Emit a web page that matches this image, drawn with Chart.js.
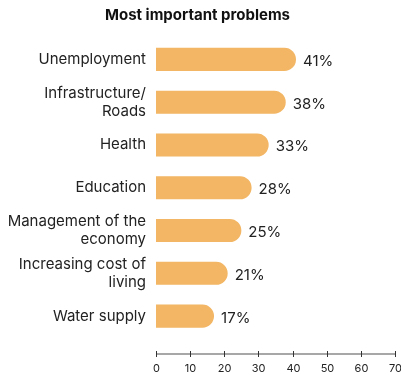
<!DOCTYPE html>
<html>
<head>
<meta charset="utf-8">
<script src="https://cdn.jsdelivr.net/npm/chart.js@4.4.1/dist/chart.umd.min.js"></script>
<style>
html,body{margin:0;padding:0;background:#fff;}
#wrap{width:401px;height:375px;position:relative;}
</style>
</head>
<body>
<div id="wrap"><canvas id="c" width="401" height="375"></canvas></div>
<script>
const categories = [
  "Unemployment",
  ["Infrastructure/", "Roads"],
  "Health",
  "Education",
  ["Management of the", "economy"],
  ["Increasing cost of", "living"],
  "Water supply"
];
const values = [41, 38, 33, 28, 25, 21, 17];
const xTicks = [0, 10, 20, 30, 40, 50, 60, 70];
const titleText = "Most important problems";

const FONT = "Inter, 'Liberation Sans', sans-serif";
const AXIS_GAP = 16.5;

const valueLabels = {
  id: 'valueLabels',
  afterDatasetsDraw(chart) {
    const ctx = chart.ctx;
    const meta = chart.getDatasetMeta(0);
    ctx.save();
    ctx.font = "15px " + FONT;
    ctx.fillStyle = "#222";
    ctx.textAlign = "left";
    ctx.textBaseline = "middle";
    meta.data.forEach((bar, i) => {
      ctx.fillText(values[i] + "%", bar.x + 7, bar.y + 2);
    });
    ctx.restore();
  }
};

const customAxis = {
  id: 'customAxis',
  afterDraw(chart) {
    const ctx = chart.ctx;
    const xs = chart.scales.x;
    const y = chart.chartArea.bottom + AXIS_GAP;
    ctx.save();
    ctx.strokeStyle = "#8a8a8a";
    ctx.lineWidth = 1.5;
    ctx.beginPath();
    ctx.moveTo(xs.getPixelForValue(xTicks[0]), y);
    ctx.lineTo(xs.getPixelForValue(xTicks[xTicks.length - 1]), y);
    ctx.stroke();
    ctx.strokeStyle = "#333";
    ctx.lineWidth = 1;
    ctx.font = "11px " + FONT;
    ctx.fillStyle = "#222";
    ctx.textAlign = "center";
    ctx.textBaseline = "middle";
    xTicks.forEach(t => {
      const px = Math.round(xs.getPixelForValue(t)) + 0.5;
      ctx.beginPath();
      ctx.moveTo(px, y - 3);
      ctx.lineTo(px, y + 3);
      ctx.stroke();
      ctx.fillText(String(t), px, y + 15);
    });
    ctx.restore();
  }
};

new Chart(document.getElementById('c'), {
  type: 'bar',
  data: {
    labels: categories,
    datasets: [{
      data: values,
      backgroundColor: '#F2B664',
      borderWidth: 0,
      borderRadius: 12,
      borderSkipped: 'start',
      barPercentage: 0.9,
      categoryPercentage: 0.6
    }]
  },
  options: {
    indexAxis: 'y',
    responsive: false,
    animation: false,
    devicePixelRatio: 1,
    layout: { padding: { left: 0, right: 6, top: 0, bottom: 37.5 } },
    plugins: {
      legend: { display: false },
      tooltip: { enabled: false },
      title: {
        display: true,
        text: titleText,
        color: '#111',
        font: { family: FONT, size: 15, weight: 'bold' },
        padding: { top: 6, bottom: 14 }
      }
    },
    scales: {
      x: {
        min: 0,
        max: 70,
        afterBuildTicks(scale) { scale.ticks = xTicks.map(v => ({ value: v })); },
        afterFit(scale) { scale.height = 0; },
        grid: { display: false, drawTicks: false },
        border: { display: false },
        ticks: { display: false }
      },
      y: {
        afterFit(scale) { scale.width = 156; },
        grid: { display: false, drawTicks: false },
        border: { display: false },
        ticks: {
          color: '#222',
          font: { family: FONT, size: 15 },
          padding: 10
        }
      }
    }
  },
  plugins: [valueLabels, customAxis]
});
</script>
</body>
</html>
